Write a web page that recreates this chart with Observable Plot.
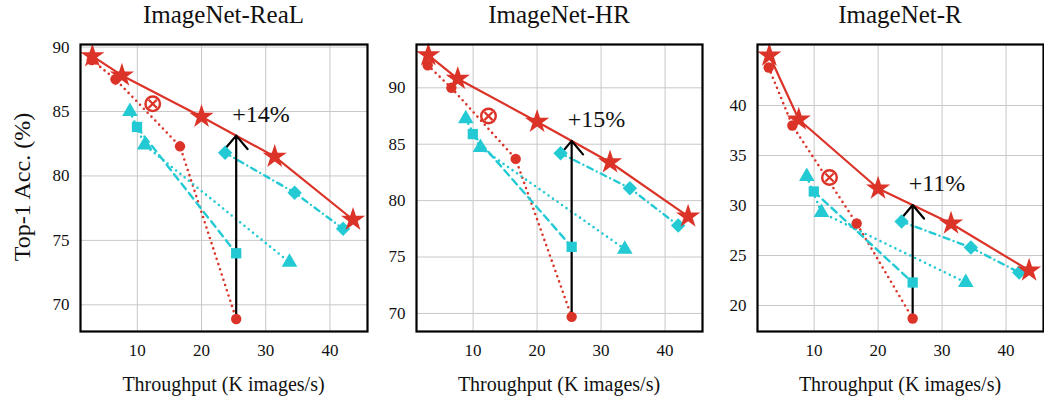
<!DOCTYPE html>
<html><head><meta charset="utf-8">
<script src="https://cdn.jsdelivr.net/npm/d3@7"></script>
<script src="https://cdn.jsdelivr.net/npm/@observablehq/plot@0.6"></script>
<style>
body{margin:0;background:#fff;}
#wrap{position:relative;width:1044px;height:398px;overflow:hidden;font-family:"Liberation Serif","Times New Roman","DejaVu Serif",Tinos,serif;color:#111;}
.panel{position:absolute;top:0;}
.title{position:absolute;top:1px;font-size:25px;line-height:28px;text-align:center;white-space:nowrap;}
.xlab{position:absolute;top:372px;font-size:20px;line-height:24px;text-align:center;white-space:nowrap;}
.ylab{position:absolute;font-size:24px;white-space:nowrap;left:22px;top:187px;transform:translate(-50%,-50%) rotate(-90deg);}
</style></head><body><div id="wrap"></div>
<script>
// ---- data ----
const datasets = ["ImageNet-ReaL", "ImageNet-HR", "ImageNet-R"];
const gainLabels = ["+14%", "+15%", "+11%"];
const xTicks = [10, 20, 30, 40];
const yTicksReaL = [70, 75, 80, 85, 90];
const yTicksHR = [70, 75, 80, 85, 90];
const yTicksR = [20, 25, 30, 35, 40];

// throughput (K images/s)
const starX = [3.0, 7.6, 20.0, 31.4, 43.6];
const circleX = [2.9, 6.6, 16.65, 25.4];
const otimesX = [12.4];
const triangleX = [8.85, 11.15, 33.7];
const squareX = [9.95, 25.4];
const diamondX = [23.67, 34.5, 42.05];

// top-1 accuracy per dataset
const starReaL = [89.3, 87.8, 84.6, 81.5, 76.6];
const starHR = [92.9, 90.8, 87.0, 83.4, 78.6];
const starR = [45.0, 38.6, 31.7, 28.2, 23.5];
const circleReaL = [89.0, 87.5, 82.3, 68.9];
const circleHR = [92.0, 90.0, 83.7, 69.7];
const circleR = [43.8, 38.0, 28.2, 18.7];
const otimesReaL = [85.6];
const otimesHR = [87.5];
const otimesR = [32.8];
const triangleReaL = [85.0, 82.4, 73.3];
const triangleHR = [87.25, 84.7, 75.7];
const triangleR = [32.9, 29.3, 22.3];
const squareReaL = [83.8, 74.0];
const squareHR = [85.9, 75.9];
const squareR = [31.4, 22.3];
const diamondReaL = [81.8, 78.7, 75.9];
const diamondHR = [84.2, 81.1, 77.8];
const diamondR = [28.4, 25.8, 23.3];

// ---- layout / style ----
const FONT = '"Liberation Serif", "Times New Roman", "DejaVu Serif", Tinos, serif';
const RED = "#dc3328";
const CYAN = "#24cad3";
const frameLeft = [80, 416, 757];
const frameRight = [367, 702, 1043];
const marginL = [80, 48, 52];
const yDomains = [[67.93, 90.2], [68.4, 93.84], [17.4, 46.1]];
const xDomain = [1.15, 45.85];

const series = [
  {star: starReaL, circle: circleReaL, otimes: otimesReaL, tri: triangleReaL, sq: squareReaL, dia: diamondReaL, yt: yTicksReaL},
  {star: starHR, circle: circleHR, otimes: otimesHR, tri: triangleHR, sq: squareHR, dia: diamondHR, yt: yTicksHR},
  {star: starR, circle: circleR, otimes: otimesR, tri: triangleR, sq: squareR, dia: diamondR, yt: yTicksR}
];

const zip = (xs, ys) => xs.map((x, j) => ({x, y: ys[j]}));
function lineAt(pts, x) {
  for (let j = 0; j < pts.length - 1; j++) {
    const a = pts[j], b = pts[j + 1];
    if (x >= a.x && x <= b.x) return a.y + (b.y - a.y) * (x - a.x) / (b.x - a.x);
  }
  return pts[pts.length - 1].y;
}

const wrap = document.getElementById("wrap");

series.forEach((s, i) => {
  const stars = zip(starX, s.star);
  const circles = zip(circleX, s.circle);
  const otimes = zip(otimesX, s.otimes);
  const tris = zip(triangleX, s.tri);
  const sqs = zip(squareX, s.sq);
  const dias = zip(diamondX, s.dia);
  const ax = circles[circles.length - 1].x;
  const ay0 = circles[circles.length - 1].y;
  const ay1 = lineAt(stars, ax);
  const arrow = [{x: ax, y1: ay0, y2: ay1, label: gainLabels[i]}];

  const mL = marginL[i];
  const left = frameLeft[i] - mL;
  const mR = 2;
  const width = frameRight[i] - left + mR;

  const plot = Plot.plot({
    width, height: 398,
    marginLeft: mL, marginRight: mR, marginTop: 44, marginBottom: 67,
    x: {domain: xDomain},
    y: {domain: yDomains[i]},
    style: {fontFamily: FONT, fontSize: "17px", color: "#111", background: "transparent", overflow: "visible"},
    marks: [
      Plot.gridX(xTicks, {stroke: "#c8c8c8", strokeOpacity: 1, strokeWidth: 1}),
      Plot.gridY(s.yt, {stroke: "#c8c8c8", strokeOpacity: 1, strokeWidth: 1}),
      Plot.axisX(xTicks, {tickSize: 0, tickPadding: 12, label: null, fontSize: 17, fontFamily: FONT}),
      Plot.axisY(s.yt, {tickSize: 0, tickPadding: 11, label: null, fontSize: 17, fontFamily: FONT}),
      Plot.line(circles, {x: "x", y: "y", stroke: RED, strokeWidth: 2.6, strokeDasharray: "0,5.5", strokeLinecap: "round"}),
      Plot.line(tris, {x: "x", y: "y", stroke: CYAN, strokeWidth: 2.6, strokeDasharray: "0,5.5", strokeLinecap: "round"}),
      Plot.line(sqs, {x: "x", y: "y", stroke: CYAN, strokeWidth: 2.4, strokeDasharray: "7,5"}),
      Plot.line(dias, {x: "x", y: "y", stroke: CYAN, strokeWidth: 2.4, strokeDasharray: "6,4.5,0,4.5", strokeLinecap: "round"}),
      Plot.line(stars, {x: "x", y: "y", stroke: RED, strokeWidth: 2.2}),
      Plot.arrow(arrow, {x: "x", y1: "y1", y2: "y2", stroke: "#000", strokeWidth: 2.2, headLength: 12, headAngle: 80}),
      Plot.dot(tris, {x: "x", y: "y", symbol: "triangle", r: 5.8, fill: CYAN}),
      Plot.dot(sqs, {x: "x", y: "y", symbol: "square", r: 5.8, fill: CYAN}),
      Plot.dot(dias, {x: "x", y: "y", symbol: "diamond2", r: 6.5, fill: CYAN, stroke: "none"}),
      Plot.dot(circles, {x: "x", y: "y", symbol: "circle", r: 5.2, fill: RED}),
      Plot.dot(otimes, {x: "x", y: "y", symbol: "circle", r: 7.3, fill: "white", stroke: RED, strokeWidth: 2.4}),
      Plot.dot(otimes, {x: "x", y: "y", symbol: "times", r: 3.8, stroke: RED, strokeWidth: 2.2}),
      Plot.dot(stars, {x: "x", y: "y", symbol: "star", r: 7.6, fill: RED}),
      Plot.text(arrow, {x: "x", y: "y2", text: "label", textAnchor: "start", lineAnchor: "bottom", dx: -4, dy: -14, fontSize: 24, fontFamily: FONT, fill: "#111"}),
      Plot.frame({stroke: "#000", strokeWidth: 2.2})
    ]
  });
  plot.classList.add("panel");
  plot.style.left = left + "px";
  wrap.appendChild(plot);

  const t = document.createElement("div");
  t.className = "title";
  t.textContent = datasets[i];
  t.style.left = frameLeft[i] + "px";
  t.style.width = (frameRight[i] - frameLeft[i]) + "px";
  wrap.appendChild(t);

  const xl = document.createElement("div");
  xl.className = "xlab";
  xl.textContent = "Throughput (K images/s)";
  xl.style.left = frameLeft[i] + "px";
  xl.style.width = (frameRight[i] - frameLeft[i]) + "px";
  wrap.appendChild(xl);
});

const yl = document.createElement("div");
yl.className = "ylab";
yl.textContent = "Top-1 Acc. (%)";
wrap.appendChild(yl);
</script>
</body></html>
